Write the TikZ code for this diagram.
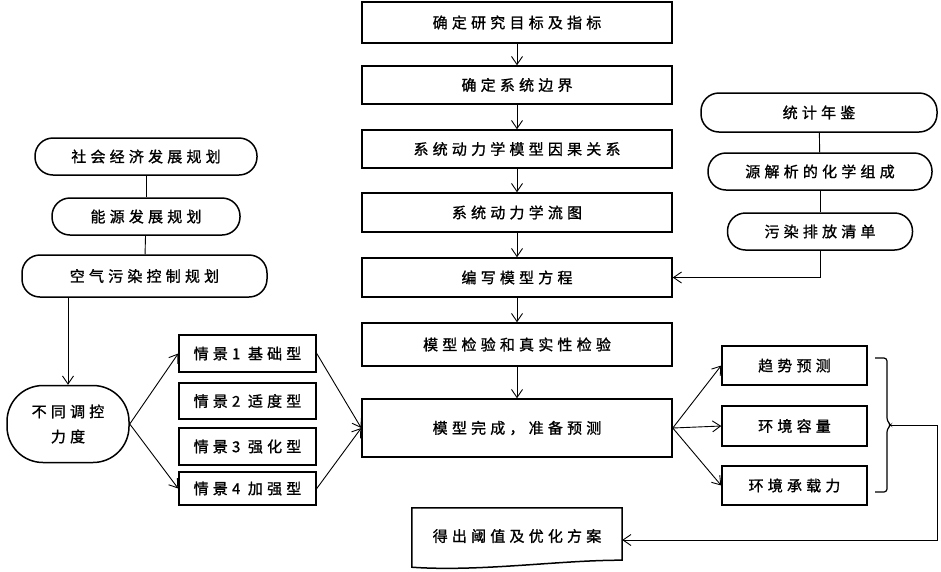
\documentclass[tikz,border=0pt]{standalone}
\usepackage{fontspec}
\newfontfamily\cjk[LetterSpace=28, FakeBold=1.2]{Noto Sans CJK SC}
\usetikzlibrary{arrows.meta}

\begin{document}
\begin{tikzpicture}[x=1pt, y=-1pt,
    font=\cjk\fontsize{15}{25}\selectfont,
    stepbox/.style={draw, line width=1.5pt, minimum width=310pt, inner sep=0pt},
    plainbox/.style={draw, line width=1.5pt, inner sep=0pt},
    roundbox/.style={draw, line width=1.5pt, rounded corners=18pt, inner sep=0pt},
    arrow/.style={-{Straight Barb[length=8pt,width=11pt]}, line width=0.9pt},
    link/.style={line width=0.9pt}
  ]
    \useasboundingbox (0,0) rectangle (941,571);

    %Main column
    \node[stepbox, minimum height=41pt] (goal)  at (517,22.5) {确定研究目标及指标};
    \node[stepbox, minimum height=38pt] (bound) at (517,85)   {确定系统边界};
    \node[stepbox, minimum height=38pt] (cause) at (517,149)  {系统动力学模型因果关系};
    \node[stepbox, minimum height=39pt] (flow)  at (517,212.5) {系统动力学流图};
    \node[stepbox, minimum height=39pt] (eqn)   at (517,277.5) {编写模型方程};
    \node[stepbox, minimum height=43pt] (check) at (517,344.5) {模型检验和真实性检验};
    \node[stepbox, minimum height=58pt] (done)  at (517,428)  {模型完成，准备预测};

    \draw[arrow] (goal) -- (bound);
    \draw[arrow] (bound) -- (cause);
    \draw[arrow] (cause) -- (flow);
    \draw[arrow] (flow) -- (eqn);
    \draw[arrow] (eqn) -- (check);
    \draw[arrow] (check) -- (done);

    %Data sources
    \node[roundbox, minimum width=236pt, minimum height=39pt] (stat) at (819,112.5) {统计年鉴};
    \node[roundbox, minimum width=224pt, minimum height=37pt] (src)  at (820,171.5) {源解析的化学组成};
    \node[roundbox, minimum width=185pt, minimum height=37pt] (inv)  at (820,231.5) {污染排放清单};

    \draw[link] (stat) -- (src);
    \draw[link] (src) -- (inv);
    \draw[arrow] (inv.south) |- (eqn.east);

    %Plans
    \node[roundbox, minimum width=222pt, minimum height=37pt] (soc)    at (146,156.5) {社会经济发展规划};
    \node[roundbox, minimum width=188pt, minimum height=37pt] (energy) at (146,216.5) {能源发展规划};
    \node[roundbox, minimum width=245pt, minimum height=42pt] (air)    at (144.5,276) {空气污染控制规划};

    \draw[link] (soc) -- (energy);
    \draw[link] (energy) -- (air);

    %Control levels
    \node[roundbox, rounded corners=36pt, minimum width=122pt, minimum height=77pt, align=center] (ctrl) at (68,424) {不同调控\\力度};
    \draw[arrow] (ctrl.north |- air.south) -- (ctrl.north);

    %Scenarios
    \node[plainbox, minimum width=137pt, minimum height=37pt] (scA) at (247.5,353.5) {情景1 基础型};
    \node[plainbox, minimum width=137pt, minimum height=36pt] (scB) at (247.5,401)   {情景2 适度型};
    \node[plainbox, minimum width=137pt, minimum height=37pt] (scC) at (247.5,446.5) {情景3 强化型};
    \node[plainbox, minimum width=137pt, minimum height=33pt] (scD) at (247.5,488.5) {情景4 加强型};

    \draw[arrow] (ctrl.east) -- (scA.west);
    \draw[arrow] (ctrl.east) -- (scD.west);
    \draw[arrow] (scA.east) -- (done.west);
    \draw[arrow] (scD.east) -- (done.west);

    %Forecasts
    \node[plainbox, minimum width=145pt, minimum height=39pt] (trend) at (794.5,365.5) {趋势预测};
    \node[plainbox, minimum width=145pt, minimum height=40pt] (cap)   at (794.5,426)   {环境容量};
    \node[plainbox, minimum width=145pt, minimum height=39pt] (carry) at (794.5,485.5) {环境承载力};

    \draw[arrow] (done.east) -- (trend.west);
    \draw[arrow] (done.east) -- (cap.west);
    \draw[arrow] (done.east) -- (carry.west);

    %Brace and result
    \draw[line width=1.2pt, rounded corners=3pt] (875,358) -- (887,358) -- (887,421) -- (891,425)
      -- (887,429) -- (887,492) -- (875,492);
    \coordinate (tip) at (891,425);
    \coordinate (turn) at (937,425);

    \node[minimum width=210pt, minimum height=56pt, inner sep=0pt] (doc) at (517,536) {得出阈值及优化方案};
    \draw[line width=1.5pt] (doc.north west) -- (doc.north east) -- ([yshift=4pt]doc.south east)
      .. controls (560,560) and (480,572) .. ([yshift=-3pt]doc.south west) -- cycle;

    \draw[link] (tip) -- (turn);
    \draw[arrow] (turn) |- ([yshift=-4pt]doc.east);
  \end{tikzpicture}
\end{document}
